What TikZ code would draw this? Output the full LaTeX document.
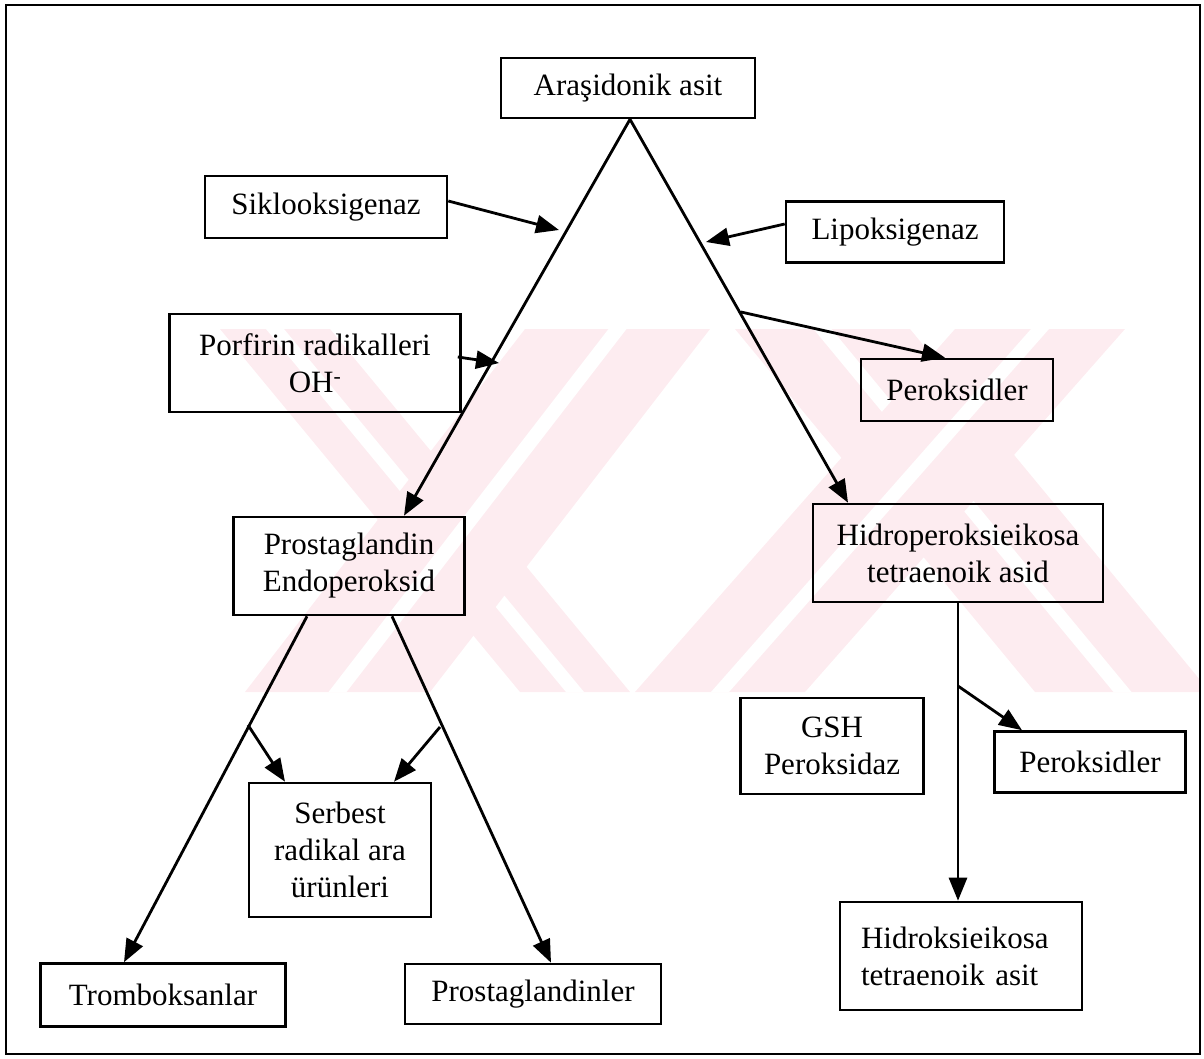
\documentclass[tikz,border=0pt]{standalone}
\usepackage{fontspec}
\setmainfont{Liberation Serif}
\usetikzlibrary{arrows.meta,calc}

\definecolor{wmpink}{RGB}{253,236,240}

\tikzset{
	box/.style={draw, line width=2.6pt, inner sep=0pt, align=center, font=\fontsize{31}{37}\selectfont},
	flow/.style={line width=2.8pt, -{Triangle[length=23pt,width=18pt]}},
	stripe/.style={fill=wmpink}
}

\begin{document}
\begin{tikzpicture}[x=1pt, y=-1pt]
		%%%%% START %%%%%
		\useasboundingbox (0,0) rectangle (1204,1058);
		
		% watermark
		\begin{scope}
			\clip (215,329) rectangle (1200,692);
			\foreach \a/\b/\s in {220/330/300, 525/710/-280, 735/910/300, 955/1125/-320}{
				\fill[stripe] (\a,329) -- (\b,329) -- (\b+\s,692) -- (\a+\s,692) -- cycle;
				\fill[white] ({(\a+\b)/2-9},329) -- ({(\a+\b)/2+9},329) -- ({(\a+\b)/2+9+\s},692) -- ({(\a+\b)/2-9+\s},692) -- cycle;
			}
		\end{scope}
		
		\draw[line width=2.6pt] (6,5) rectangle (1200,1054);
		
		\node[box, minimum width=254pt, minimum height=60pt] (aras) at (628,88) {Araşidonik asit};
		\node[box, minimum width=242pt, minimum height=62pt] (siklo) at (326,207) {Siklooksigenaz};
		\node[box, minimum width=218pt, minimum height=61pt] (lipo) at (895,232) {Lipoksigenaz};
		\node[box, minimum width=291pt, minimum height=98pt] (porf) at (315,363) {Porfirin radikalleri\\OH\textsuperscript{-}};
		\node[box, minimum width=192pt, minimum height=62pt] (perox1) at (957,390) {Peroksidler};
		
		\node[box, minimum width=231pt, minimum height=98pt] (pge) at (349,566) {Prostaglandin\\Endoperoksid};
		\node[box, minimum width=290pt, minimum height=98pt] (hpete) at (958,553) {Hidroperoksieikosa\\tetraenoik asid};
		
		\node[box, minimum width=183pt, minimum height=96pt] (gsh) at (832,746) {GSH\\Peroksidaz};
		\node[box, minimum width=191pt, minimum height=61pt] (perox2) at (1090,762) {Peroksidler};
		\node[box, minimum width=182pt, minimum height=134pt] (serb) at (340,850) {Serbest\\radikal ara\\ürünleri};
		\node[box, minimum width=242pt, minimum height=108pt, text width=200pt, inner xsep=21pt, align=left] (hete) at (961,956) {Hidroksieikosa\\tetraenoik asit};
		
		\node[box, minimum width=245pt, minimum height=63pt] (tromb) at (163,995) {Tromboksanlar};
		\node[box, minimum width=256pt, minimum height=60pt] (pgs) at (533,994) {Prostaglandinler};
		
		% main branches
		\draw[flow] ([xshift=2pt]aras.south) -- ([xshift=55pt]pge.north);
		\draw[flow] ([xshift=2pt]aras.south) -- ([xshift=-110pt]hpete.north);
		
		\coordinate (cox) at (559,230);
		\coordinate (porfin) at (499,363);
		\coordinate (lox) at (706,242);
		\coordinate (pxout) at (741,312);
		\draw[flow] ([yshift=6pt]siklo.east) -- (cox);
		\draw[flow] ([yshift=6pt,xshift=-4pt]porf.east) -- (porfin);
		\draw[flow] ([yshift=8pt]lipo.west) -- (lox);
		\draw[flow] (pxout) -- ([xshift=-12pt]perox1.north);
		
		% prostaglandin side
		\draw[flow] ([xshift=-42pt]pge.south) -- ([xshift=-39pt]tromb.north);
		\draw[flow] ([xshift=43pt]pge.south) -- ([xshift=18pt]pgs.north);
		\coordinate (tx) at (248,725);
		\coordinate (px) at (440,727);
		\draw[flow] (tx) -- ([xshift=-55pt]serb.north);
		\draw[flow] (px) -- ([xshift=54pt]serb.north);
		
		% lipoxygenase side
		\draw[flow] (hpete.south) -- (hpete.south |- hete.north);
		\coordinate (hx) at (958,686);
		\draw[flow] (hx) -- ([xshift=-68pt]perox2.north);
		
		%%%%% END %%%%%
	\end{tikzpicture}
\end{document}
